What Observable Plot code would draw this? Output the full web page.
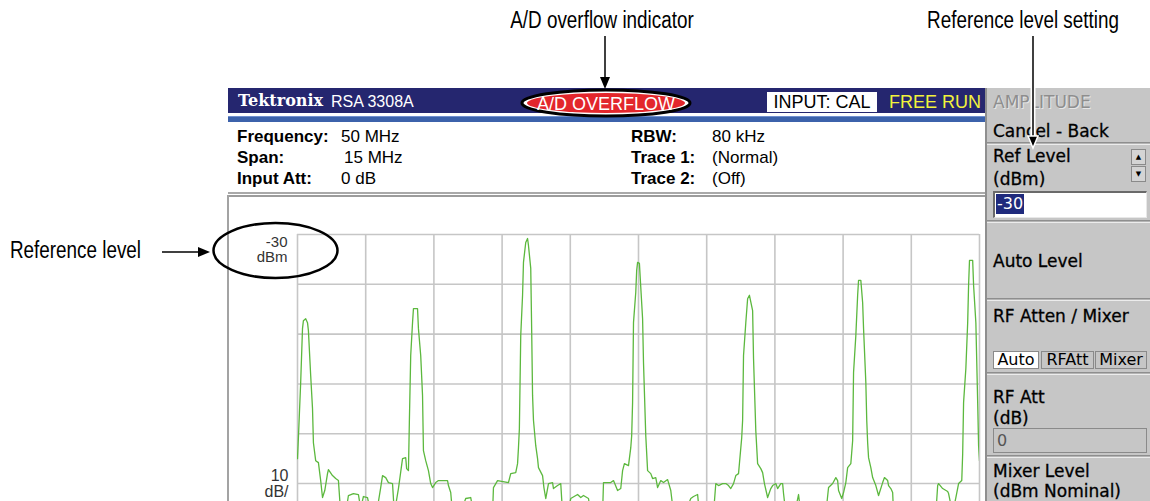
<!DOCTYPE html>
<html>
<head>
<meta charset="utf-8">
<script src="https://cdn.jsdelivr.net/npm/d3@7"></script>
<script src="https://cdn.jsdelivr.net/npm/@observablehq/plot@0.6"></script>
<style>
  html, body { margin: 0; padding: 0; background: #fff; }
  body { width: 1150px; height: 501px; overflow: hidden; position: relative; font-family: "Liberation Sans", Arial, sans-serif; }
  .abs { position: absolute; white-space: nowrap; }
  .note { font-family: "Liberation Sans", Arial, sans-serif; font-size: 23px; color: #000; line-height: 26px; transform: scaleX(0.82); }
  .info { font-size: 17px; line-height: 21px; color: #000; }
  .info b { font-weight: bold; }
  .panel { font-family: "DejaVu Sans", sans-serif; font-size: 17px; line-height: 20px; color: #000; -webkit-text-stroke: 0.3px currentColor; }
  .sep { position: absolute; left: 987px; width: 163px; height: 3px; border-top: 1px solid #8e8e8e; border-bottom: 1px solid #ececec; box-sizing: border-box; background: #b4b4b4; }
  .btn { position: absolute; height: 18px; box-sizing: border-box; border: 1px solid #8a8a8a; font-family: "DejaVu Sans", sans-serif; font-size: 16px; line-height: 16px; text-align: center; color: #000; }
</style>
</head>
<body>
<script>
// ---- data ----
const frequencyMHz = 50;
const spanMHz = 15;
const refLevelDbm = -30;
const scaleDbPerDiv = 10;
const freqTicks = [42.5, 44, 45.5, 47, 48.5, 50, 51.5, 53, 54.5, 56, 57.5];
const levelTicks = [-30, -40, -50, -60, -70, -80];
const refLabel = ["-30\ndBm"];
const scaleLabel = ["10\ndB/"];
// trace 1: [frequency MHz, level dBm]
const trace = [
  [42.50,-75.0],[42.52,-70.8],[42.57,-59.7],[42.61,-48.9],[42.63,-47.3],[42.68,-46.9],[42.72,-47.7],[42.74,-49.3],
  [42.79,-58.3],[42.83,-64.9],[42.85,-71.8],[42.90,-75.4],[42.96,-75.8],[43.01,-79.4],[43.05,-82.8],[43.10,-81.4],
  [43.16,-78.0],[43.18,-77.2],[43.27,-78.4],[43.34,-79.0],[43.40,-79.4],[43.45,-86],[43.56,-86],[43.62,-82.4],
  [43.73,-82.0],[43.84,-82.2],[43.89,-85],[43.95,-82.6],[44.04,-82.8],[44.11,-86],[44.22,-87],[44.33,-80.8],
  [44.37,-78.4],[44.44,-78.8],[44.50,-79.8],[44.59,-80.0],[44.63,-86],[44.72,-81.0],[44.81,-75.0],[44.88,-74.8],
  [44.90,-77.0],[44.94,-77.4],[44.96,-67.8],[44.99,-54.3],[45.03,-47.7],[45.05,-44.9],[45.14,-44.9],[45.16,-48.9],
  [45.21,-54.3],[45.25,-62.3],[45.27,-73.4],[45.32,-75.4],[45.38,-77.4],[45.43,-80.0],[45.47,-80.8],[45.54,-79.8],
  [45.60,-79.4],[45.80,-79.4],[45.82,-80.4],[45.87,-81.8],[45.91,-86],[46.04,-87],[46.20,-83.0],[46.31,-82.8],
  [46.37,-86],[46.57,-88],[46.79,-86],[46.81,-80.8],[46.90,-79.4],[47.14,-79.8],[47.19,-78.0],[47.30,-77.8],
  [47.34,-76.0],[47.36,-72.8],[47.38,-69.0],[47.41,-50.3],[47.45,-42.2],[47.47,-35.6],[47.52,-31.6],[47.56,-30.8],
  [47.58,-32.2],[47.63,-36.8],[47.65,-48.9],[47.67,-62.3],[47.69,-67.3],[47.74,-72.4],[47.78,-75.0],[47.80,-76.8],
  [47.89,-78.4],[47.92,-80.8],[47.96,-83.0],[48.02,-80.0],[48.11,-79.8],[48.13,-81.0],[48.22,-80.4],[48.29,-80.0],
  [48.33,-86],[48.42,-87],[48.51,-83.0],[48.66,-82.2],[48.73,-82.8],[48.79,-82.4],[48.90,-83.0],[48.95,-86],
  [49.08,-88],[49.21,-86],[49.23,-79.8],[49.39,-79.8],[49.45,-79.4],[49.54,-81.4],[49.61,-81.0],[49.65,-77.4],
  [49.69,-76.0],[49.78,-76.4],[49.83,-72.8],[49.85,-70.4],[49.87,-63.7],[49.89,-47.7],[49.94,-41.6],[49.96,-37.2],
  [49.98,-35.6],[50.02,-35.8],[50.05,-40.6],[50.09,-46.9],[50.11,-55.7],[50.16,-70.4],[50.20,-77.4],[50.27,-78.0],
  [50.31,-79.0],[50.38,-78.8],[50.42,-80.8],[50.49,-79.4],[50.55,-79.8],[50.64,-79.2],[50.66,-79.8],[50.71,-81.4],
  [50.77,-86],[50.93,-88],[51.15,-83.0],[51.21,-82.6],[51.30,-82.2],[51.34,-86],[51.50,-87],[51.65,-86],
  [51.70,-80.0],[51.76,-80.4],[51.85,-80.0],[51.92,-80.0],[51.98,-80.4],[52.03,-81.0],[52.09,-80.0],[52.14,-78.4],
  [52.20,-78.0],[52.27,-70.8],[52.29,-67.3],[52.31,-54.3],[52.36,-47.7],[52.40,-42.9],[52.44,-42.2],[52.51,-45.3],
  [52.53,-54.9],[52.58,-69.4],[52.62,-76.0],[52.69,-77.0],[52.73,-77.8],[52.77,-80.0],[52.84,-82.8],[52.91,-81.0],
  [52.95,-80.4],[53.02,-80.0],[53.06,-81.0],[53.13,-80.0],[53.17,-80.0],[53.19,-82.0],[53.24,-86],[53.39,-88],
  [53.52,-82.2],[53.57,-86],[53.83,-88],[54.12,-86],[54.18,-80.8],[54.27,-80.0],[54.34,-78.8],[54.38,-79.4],
  [54.40,-81.4],[54.47,-83.0],[54.51,-81.8],[54.56,-79.8],[54.60,-76.8],[54.67,-76.0],[54.71,-71.4],[54.73,-57.7],
  [54.78,-50.3],[54.82,-42.2],[54.84,-39.2],[54.89,-39.2],[54.93,-43.7],[54.95,-48.9],[55.00,-59.7],[55.02,-67.3],
  [55.04,-71.8],[55.06,-74.8],[55.11,-76.8],[55.15,-78.8],[55.22,-80.4],[55.28,-82.4],[55.37,-79.8],[55.41,-78.8],
  [55.48,-79.4],[55.50,-80.4],[55.55,-81.0],[55.59,-81.8],[55.61,-86],[55.99,-88],[56.20,-87],[56.54,-86],
  [56.58,-80.4],[56.60,-80.0],[56.69,-81.0],[56.80,-81.6],[56.82,-82.0],[56.91,-86],[56.98,-82.8],[57.04,-80.0],
  [57.11,-79.4],[57.13,-74.0],[57.15,-63.7],[57.20,-56.9],[57.24,-47.7],[57.26,-40.2],[57.28,-35.2],[57.35,-35.2],
  [57.37,-40.2],[57.42,-47.7],[57.46,-63.7],[57.48,-72.4],[57.50,-75.4]
];
</script>

<!-- callout texts -->
<div class="abs note" style="left:452px; top:7px; width:300px; text-align:center; transform-origin:center;">A/D overflow indicator</div>
<div class="abs note" style="left:873px; top:7px; width:300px; text-align:center; transform-origin:center;">Reference level setting</div>
<div class="abs note" style="left:10px; top:237px; transform-origin:left center;">Reference level</div>

<!-- instrument header -->
<div class="abs" style="left:228px; top:88px; width:757px; height:25px; background:#25266f;"></div>
<div class="abs" style="left:228px; top:116px; width:757px; height:6px; background:#3c62ab; border-top:1px solid #6f8fd0; box-sizing:border-box;"></div>
<div class="abs" style="left:238px; top:91px; font-family:'DejaVu Serif',serif; font-weight:bold; font-size:16px; line-height:20px; color:#fff;">Tektronix</div>
<div class="abs" style="left:331px; top:92px; font-size:16px; line-height:20px; color:#fff;">RSA 3308A</div>
<div class="abs" style="left:767px; top:92px; width:110px; height:20px; background:#fff; color:#000; font-size:18px; line-height:20px; text-align:center;">INPUT: CAL</div>
<div class="abs" style="left:889px; top:92px; font-size:18px; line-height:20px; color:#f2f23c;">FREE RUN</div>

<!-- info rows -->
<div class="abs info" style="left:237px; top:126px;"><b>Frequency:</b></div>
<div class="abs info" style="left:341px; top:126px;" id="freqVal"></div>
<div class="abs info" style="left:237px; top:147px;"><b>Span:</b></div>
<div class="abs info" style="left:344px; top:147px;" id="spanVal"></div>
<div class="abs info" style="left:237px; top:168px;"><b>Input Att:</b></div>
<div class="abs info" style="left:341px; top:168px;">0 dB</div>
<div class="abs info" style="left:631px; top:126px;"><b>RBW:</b></div>
<div class="abs info" style="left:712px; top:126px;">80 kHz</div>
<div class="abs info" style="left:631px; top:147px;"><b>Trace 1:</b></div>
<div class="abs info" style="left:712px; top:147px;">(Normal)</div>
<div class="abs info" style="left:631px; top:168px;"><b>Trace 2:</b></div>
<div class="abs info" style="left:712px; top:168px;">(Off)</div>
<div class="abs" style="left:228px; top:192px; width:757px; height:2px; background:#a9a9a9;"></div>

<!-- chart area -->
<div class="abs" style="left:228px; top:195px; width:757px; height:2px; background:#9c9c9c;"></div>
<div class="abs" style="left:227px; top:195px; width:2px; height:306px; background:#a3a3a3;"></div>
<div class="abs" id="chart" style="left:229px; top:197px;"></div>

<!-- right panel -->
<div class="abs" style="left:985px; top:88px; width:165px; height:413px; background:#c6c6c6; border-left:2px solid #8f8f8f; box-sizing:border-box;"></div>
<div class="abs panel" style="left:993px; top:92px; color:#8e8e8e; text-shadow:1px 1px 0 #e6e6e6; -webkit-text-stroke:0;">AMPLITUDE</div>
<div class="abs panel" style="left:993px; top:121px;">Cancel - Back</div>
<div class="sep" style="top:142px;"></div>
<div class="abs panel" style="left:993px; top:146px;">Ref Level</div>
<div class="abs panel" style="left:993px; top:169px;">(dBm)</div>
<div class="btn" style="left:1131px; top:149px; width:15px; height:16px; background:#d4d4d4; font-size:7px; line-height:14px;">&#9650;</div>
<div class="btn" style="left:1131px; top:166px; width:15px; height:16px; background:#d4d4d4; font-size:7px; line-height:14px;">&#9660;</div>
<div class="abs" style="left:993px; top:191px; width:154px; height:27px; background:#fff; border-top:2px solid #6a6a6a; border-left:2px solid #6a6a6a; border-right:1px solid #e8e8e8; border-bottom:1px solid #e8e8e8; box-sizing:border-box;"></div>
<div class="abs panel" style="left:996px; top:194px; height:20px; padding:0 1px; background:#1f2a7c; color:#fff; font-size:16px; -webkit-text-stroke:0;" id="refVal"></div>
<div class="sep" style="top:220px;"></div>
<div class="abs panel" style="left:993px; top:251px;">Auto Level</div>
<div class="sep" style="top:298px;"></div>
<div class="abs panel" style="left:993px; top:306px;">RF Atten / Mixer</div>
<div class="btn" style="left:993px; top:351px; width:46px; background:#fff;">Auto</div>
<div class="btn" style="left:1041px; top:351px; width:53px; background:#c6c6c6;">RFAtt</div>
<div class="btn" style="left:1095px; top:351px; width:52px; background:#c6c6c6;">Mixer</div>
<div class="sep" style="top:372px;"></div>
<div class="abs panel" style="left:993px; top:387px;">RF Att</div>
<div class="abs panel" style="left:993px; top:408px;">(dB)</div>
<div class="abs" style="left:993px; top:428px; width:154px; height:25px; background:#c6c6c6; border:1px solid #8a8a8a; box-sizing:border-box;"></div>
<div class="abs panel" style="left:997px; top:431px; font-size:16px; color:#555; -webkit-text-stroke:0;">0</div>
<div class="sep" style="top:455px;"></div>
<div class="abs panel" style="left:993px; top:461px;">Mixer Level</div>
<div class="abs panel" style="left:993px; top:481px;">(dBm Nominal)</div>

<!-- callout graphics -->
<svg class="abs" style="left:0; top:0; pointer-events:none;" width="1150" height="501">
  <line x1="605" y1="36" x2="605" y2="80" stroke="#000" stroke-width="1.5"/>
  <polygon points="600,77 610,77 605,89" fill="#000"/>
  <ellipse cx="606" cy="103" rx="84" ry="13" fill="#fff" stroke="#000" stroke-width="3"/>
  <ellipse cx="606" cy="103" rx="79" ry="10" fill="#e3262c"/>
  <text x="606" y="109.5" text-anchor="middle" fill="#fff" font-family="Liberation Sans, Arial, sans-serif" font-size="18">A/D OVERFLOW</text>
  <line x1="1033" y1="88" x2="1033" y2="138" stroke="#fff" stroke-width="5"/>
  <line x1="1033" y1="36" x2="1033" y2="138" stroke="#000" stroke-width="1.5"/>
  <polygon points="1028,136 1038,136 1033,148" fill="#000" stroke="#fff" stroke-width="1.5"/>
  <line x1="162" y1="252" x2="201" y2="252" stroke="#000" stroke-width="1.5"/>
  <polygon points="198,247 198,257 210,252" fill="#000"/>
  <ellipse cx="275.5" cy="250.5" rx="62" ry="27.5" fill="none" stroke="#000" stroke-width="2.5"/>
</svg>

<script>
document.getElementById("freqVal").textContent = frequencyMHz + " MHz";
document.getElementById("spanVal").textContent = spanMHz + " MHz";
document.getElementById("refVal").textContent = String(refLevelDbm);

const chart = Plot.plot({
  width: 756,
  height: 304,
  marginLeft: 68,
  marginRight: 6,
  marginTop: 37,
  marginBottom: 0,
  x: {domain: [42.5, 57.5], axis: null},
  y: {domain: [-83.6, -30], axis: null},
  style: {background: "#fff", overflow: "visible"},
  marks: [
    Plot.ruleY(levelTicks, {stroke: "#c6c6c6", strokeWidth: 1.6}),
    Plot.ruleX(freqTicks, {stroke: "#c6c6c6", strokeWidth: 1.6}),
    Plot.line(trace, {x: d => d[0], y: d => d[1], stroke: "#5cb83e", strokeWidth: 1.3, clip: true}),
    Plot.text(refLabel, {x: 42.5, y: refLevelDbm, text: d => d, textAnchor: "end", lineAnchor: "top",
      dx: -10, dy: 2, lineHeight: 1, fontSize: 15, fill: "#333", fontFamily: "Liberation Sans, Arial, sans-serif"}),
    Plot.text(scaleLabel, {x: 42.5, y: -80, text: d => d, textAnchor: "end", lineAnchor: "middle",
      dx: -9, dy: 0, lineHeight: 1, fontSize: 16, fill: "#333", fontFamily: "Liberation Sans, Arial, sans-serif"})
  ]
});
document.getElementById("chart").appendChild(chart);
</script>
</body>
</html>
